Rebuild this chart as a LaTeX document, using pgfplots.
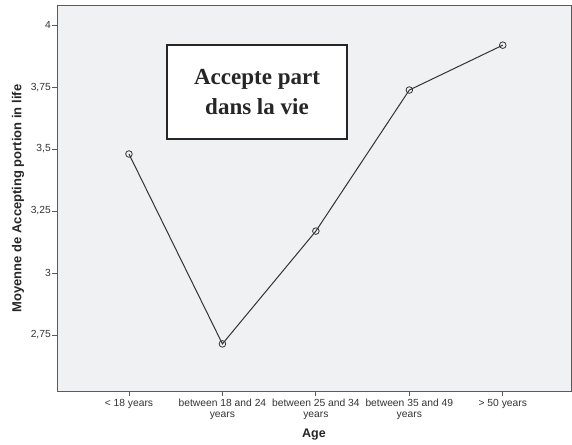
\documentclass[border=0pt]{standalone}
\usepackage{pgfplots}
\pgfplotsset{compat=1.18}
\usepackage{fontspec}
\setmainfont{Liberation Sans}
\newfontfamily\serifbox{Liberation Serif}
\definecolor{plotbg}{HTML}{F0F1F3}
\definecolor{framec}{HTML}{5A5A5A}
\definecolor{linec}{HTML}{333333}
\definecolor{textc}{HTML}{333333}
\begin{document}
\begin{tikzpicture}
\path[use as bounding box] (0,0) rectangle (572bp,445bp);
\begin{axis}[
  at={(57bp,54bp)}, anchor=south west,
  scale only axis, width=514bp, height=385bp,
  xmin=-0.77, xmax=4.73, ymin=2.524, ymax=4.077,
  axis background/.style={fill=plotbg},
  axis line style={framec, line width=1bp},
  xtick={0,1,2,3,4},
  xticklabels={{< 18 years},{between 18 and 24\\years},{between 25 and 34\\years},{between 35 and 49\\years},{> 50 years}},
  xticklabel style={align=center, font=\fontsize{10.3bp}{10.5bp}\selectfont, text=textc, inner sep=1bp, yshift=-2bp},
  ytick={2.75,3,3.25,3.5,3.75,4},
  yticklabel style={font=\fontsize{10.3bp}{10.5bp}\selectfont, text=textc, inner sep=1bp},
  /pgf/number format/use comma,
  /pgf/number format/assume math mode=true,
  tick align=outside, tickpos=left,
  major tick length=5bp,
  tick style={framec, line width=0.9bp},
  xlabel={\textbf{Age}},
  ylabel={\textbf{Moyenne de Accepting portion in life}},
  xlabel style={font=\fontsize{12.5bp}{13bp}\selectfont, text=black!85, yshift=-5bp},
  ylabel style={font=\fontsize{13bp}{14bp}\selectfont, text=black!85, yshift=2bp},
  clip=false,
]
\addplot[linec, line width=1bp, mark=o, mark size=3.3bp, mark options={linec, line width=0.8bp}]
  coordinates {(0,3.48) (1,2.714) (2,3.169) (3,3.738) (4,3.919)};
\end{axis}
\node[draw=black!85, line width=1.3bp, fill=white, minimum width=180bp, minimum height=94bp, align=center,
  font=\serifbox\bfseries\fontsize{23bp}{30bp}\selectfont, text=black!85] at (257bp,353bp) {Accepte part\\dans la vie};
\end{tikzpicture}
\end{document}
